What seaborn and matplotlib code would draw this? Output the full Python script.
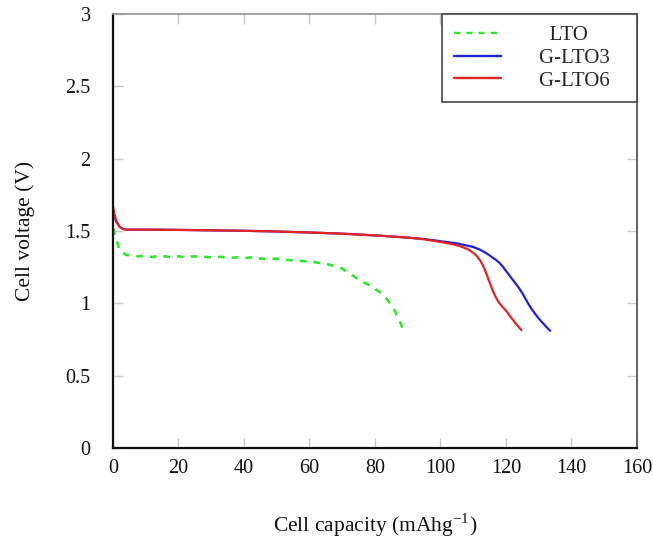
import matplotlib
matplotlib.use("Agg")
import matplotlib.pyplot as plt
import seaborn as sns
import pandas as pd

# ---- data ----
lto_x = [0, 0.8, 2, 4, 6, 8, 10, 12, 14, 16, 18, 20, 22, 25, 28, 30, 33, 36, 38, 40,
         42, 45, 48, 50, 53, 56, 58, 60, 62, 64, 66, 68, 70, 72, 74, 76, 78, 80, 82,
         84, 86, 87.5, 88.6]
lto_y = [1.52, 1.46, 1.37, 1.335, 1.33, 1.325, 1.33, 1.32, 1.33, 1.325, 1.318, 1.325,
         1.32, 1.325, 1.322, 1.318, 1.322, 1.315, 1.318, 1.312, 1.318, 1.31, 1.305,
         1.31, 1.3, 1.298, 1.292, 1.29, 1.283, 1.278, 1.268, 1.255, 1.24, 1.21, 1.18,
         1.15, 1.13, 1.10, 1.07, 1.02, 0.95, 0.88, 0.82]

glto3_x = [0, 0.5, 1, 2, 3, 4, 10, 20, 30, 40, 50, 60, 70, 80, 90, 95, 100, 105, 108,
           110, 112, 114, 116, 117, 118, 119, 120, 121, 122, 123, 124, 125, 126, 127,
           128, 129, 130, 131, 132, 133.5]
glto3_y = [1.65, 1.60, 1.565, 1.53, 1.515, 1.51, 1.51, 1.508, 1.505, 1.502, 1.497,
           1.49, 1.482, 1.47, 1.455, 1.445, 1.43, 1.415, 1.40, 1.39, 1.372, 1.347,
           1.315, 1.30, 1.28, 1.255, 1.225, 1.195, 1.165, 1.135, 1.105, 1.07, 1.03,
           0.99, 0.955, 0.925, 0.895, 0.87, 0.845, 0.81]

glto6_x = [0, 0.5, 1, 2, 3, 4, 10, 20, 30, 40, 50, 60, 70, 80, 90, 95, 100, 104, 106,
           108, 109, 110, 111, 112, 113, 114, 115, 116, 117, 118, 119, 120, 121.3, 123,
           124.7]
glto6_y = [1.67, 1.61, 1.57, 1.53, 1.515, 1.51, 1.51, 1.508, 1.505, 1.502, 1.497,
           1.49, 1.482, 1.47, 1.455, 1.443, 1.425, 1.408, 1.395, 1.378, 1.366, 1.35,
           1.33, 1.30, 1.262, 1.205, 1.145, 1.085, 1.037, 1.0, 0.975, 0.95, 0.91, 0.86,
           0.815]

series_names = ["LTO", "G-LTO3", "G-LTO6"]
legend_labels = ["  LTO", "G-LTO3   ", "G-LTO6   "]
x_ticks = [0, 20, 40, 60, 80, 100, 120, 140, 160]
y_ticks = [0, 0.5, 1, 1.5, 2, 2.5, 3]
y_tick_labels = ["0", "0.5", "1", "1.5", "2", "2.5", "3"]

colors = {"LTO": "#2ee82e", "G-LTO3": "#1f1fdc", "G-LTO6": "#e62222"}

df = pd.concat([
    pd.DataFrame({"cap": lto_x, "v": lto_y, "s": "LTO"}),
    pd.DataFrame({"cap": glto3_x, "v": glto3_y, "s": "G-LTO3"}),
    pd.DataFrame({"cap": glto6_x, "v": glto6_y, "s": "G-LTO6"}),
])

sns.set_style("ticks")
plt.rcParams["font.family"] = ["Liberation Serif", "DejaVu Serif"]
plt.rcParams["mathtext.fontset"] = "stix"

fig = plt.figure(figsize=(6.53, 5.44), dpi=100)
ax = fig.add_axes([0.173, 0.1765, 0.8025, 0.7975])

for name, lab in zip(series_names, legend_labels):
    sub = df[df["s"] == name]
    ls = "--" if name == "LTO" else "-"
    sns.lineplot(data=sub, x="cap", y="v", ax=ax, sort=False, color=colors[name],
                 linewidth=1.9 if name == "LTO" else 1.6, label=lab, linestyle=ls,
                 estimator=None)

ax.get_lines()[0].set_dashes((2.6, 2.6))

ax.set_xlim(0, 160)
ax.set_ylim(0, 3)
ax.set_xticks(x_ticks)
ax.set_xticklabels([str(t) for t in x_ticks])
ax.set_yticks(y_ticks)
ax.set_yticklabels(y_tick_labels)

ax.tick_params(axis="both", which="both", direction="in", length=7, width=1,
               color="#c8c8c8", labelsize=14.5, top=True, right=True,
               labelcolor="#111111")
ax.tick_params(axis="x", pad=8)
ax.tick_params(axis="y", pad=16)

for side in ["left", "bottom"]:
    ax.spines[side].set_color("#111111")
    ax.spines[side].set_linewidth(1.6)
ax.spines["top"].set_color("#9a9a9a")
ax.spines["top"].set_linewidth(1.3)
ax.spines["right"].set_color("#555555")
ax.spines["right"].set_linewidth(1.3)

ax.set_xlabel("Cell capacity (mAhg$^{\\mathregular{-1}}$)", fontsize=15.5,
              labelpad=24, color="#111111")
ax.set_ylabel("Cell voltage (V)", fontsize=15.5, labelpad=22, color="#111111")

leg = ax.legend(loc="upper right", borderaxespad=0, fontsize=15, frameon=True,
                fancybox=False, edgecolor="#444444", framealpha=1,
                handlelength=2.3, handletextpad=1.8, labelspacing=0.15,
                borderpad=0.55)
leg.get_frame().set_linewidth(1.2)
for line in leg.get_lines():
    line.set_linewidth(1.7)

fig.savefig("out.png", dpi=100, facecolor="white")
